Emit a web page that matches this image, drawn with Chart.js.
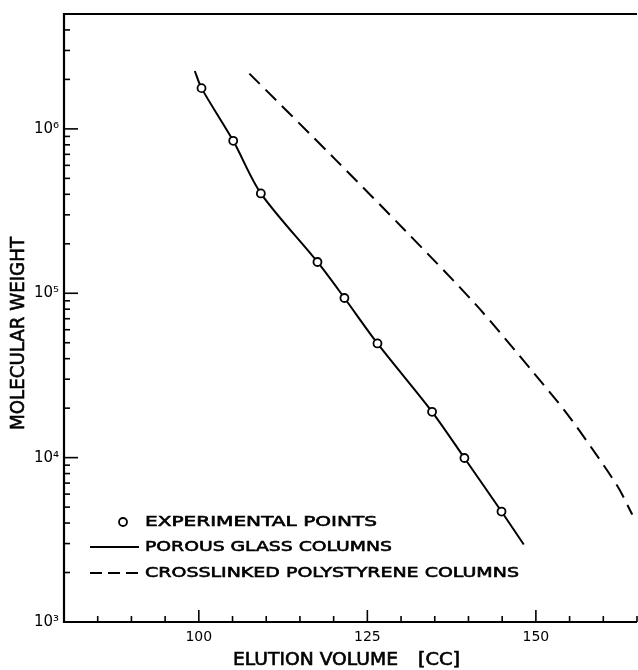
<!DOCTYPE html>
<html>
<head>
<meta charset="utf-8">
<script src="https://cdn.jsdelivr.net/npm/chart.js@4/dist/chart.umd.min.js"></script>
<style>
  html, body { margin: 0; padding: 0; background: #fff; overflow: hidden; }
  #wrap { position: relative; width: 644px; height: 670px; }
</style>
</head>
<body>
<div id="wrap"><canvas id="mwChart"></canvas></div>
<script>
// experimental points (elution volume in cc, molecular weight)
var expVolume = [100.4, 105.1, 109.2, 117.6, 121.6, 126.5, 134.6, 139.4, 144.9];
var expWeight = [1.77e6, 8.46e5, 4.05e5, 1.55e5, 9.36e4, 4.95e4, 1.90e4, 9.95e3, 4.70e3];

// porous glass columns calibration curve
var glassVolume = [99.4, 100.4, 105.1, 109.2, 117.6, 121.6, 126.5, 134.6, 139.4, 144.9, 148.2];
var glassWeight = [2.25e6, 1.77e6, 8.46e5, 4.05e5, 1.55e5, 9.36e4, 4.95e4, 1.90e4, 9.95e3, 4.70e3, 2.96e3];

// crosslinked polystyrene columns calibration curve
var psVolume = [107.5, 120.2, 130.6, 141.2, 149.7, 154.4, 158.3, 162.2, 164.3];
var psWeight = [2.17e6, 6.55e5, 2.41e5, 8.43e4, 3.27e4, 1.90e4, 1.14e4, 6.6e3, 4.5e3];

var xTickLabels = [100, 125, 150];
var legendLabels = ["EXPERIMENTAL POINTS", "POROUS GLASS COLUMNS", "CROSSLINKED POLYSTYRENE COLUMNS"];

function pairs(xs, ys) {
    return xs.map(function (x, i) { return { x: x, y: ys[i] }; });
}

var sup = { 3: "\u00b3", 4: "\u2074", 5: "\u2075", 6: "\u2076" };
var FONT = '"DejaVu Sans", sans-serif';

// draw text squeezed/stretched to a given width, a bit heavier like the lettering
function fitText(ctx, text, x, y, width, font) {
    ctx.save();
    ctx.font = font;
    var w = ctx.measureText(text).width;
    ctx.translate(x, y);
    ctx.scale(width / w, 1);
    ctx.textAlign = "left";
    ctx.textBaseline = "middle";
    ctx.lineWidth = 0.6;
    ctx.strokeStyle = "#000";
    ctx.fillText(text, 0, 0);
    ctx.strokeText(text, 0, 0);
    ctx.restore();
}

var framePlugin = {
    id: "frame",
    afterDatasetsDraw: function (chart) {
        var ctx = chart.ctx;
        var a = chart.chartArea;
        var xs = chart.scales.x;
        var ys = chart.scales.y;
        ctx.save();
        ctx.strokeStyle = "#000";
        ctx.fillStyle = "#000";
        ctx.lineCap = "butt";

        // frame: left, bottom, top
        ctx.lineWidth = 2.2;
        ctx.beginPath();
        ctx.moveTo(a.right, a.top);
        ctx.lineTo(a.left, a.top);
        ctx.lineTo(a.left, a.bottom);
        ctx.lineTo(a.right, a.bottom);
        ctx.stroke();

        // inward ticks on y (log decades)
        ctx.lineWidth = 1.6;
        for (var e = 3; e <= 6; e++) {
            for (var m = 1; m <= 9; m++) {
                var v = m * Math.pow(10, e);
                if (v > ys.max) break;
                var py = ys.getPixelForValue(v);
                var len = m === 1 ? 14 : 6;
                ctx.beginPath();
                ctx.moveTo(a.left, py);
                ctx.lineTo(a.left + len, py);
                ctx.stroke();
            }
        }
        // inward ticks on x
        for (var xv = 85; xv <= xs.max; xv += 5) {
            var px = xs.getPixelForValue(xv);
            var l = xv % 25 === 0 ? 12 : 6;
            ctx.beginPath();
            ctx.moveTo(px, a.bottom);
            ctx.lineTo(px, a.bottom - l);
            ctx.stroke();
        }

        // axis titles
        fitText(ctx, "ELUTION VOLUME", 233, 661, 165, "17px " + FONT);
        fitText(ctx, "[CC]", 418, 661, 42, "17px " + FONT);
        ctx.save();
        ctx.translate(19, 430);
        ctx.rotate(-Math.PI / 2);
        fitText(ctx, "MOLECULAR WEIGHT", 0, 0, 193, "20px " + FONT);
        ctx.restore();

        // legend
        var lx = 145;
        var rows = [522, 547, 573];
        var widths = [232, 247, 374];
        ctx.lineWidth = 1.8;
        ctx.beginPath();
        ctx.arc(123, rows[0], 4, 0, Math.PI * 2);
        ctx.stroke();
        ctx.lineWidth = 2;
        ctx.beginPath();
        ctx.moveTo(90, rows[1]);
        ctx.lineTo(139, rows[1]);
        ctx.stroke();
        ctx.setLineDash([12, 6]);
        ctx.beginPath();
        ctx.moveTo(90, rows[2]);
        ctx.lineTo(143, rows[2]);
        ctx.stroke();
        ctx.setLineDash([]);
        for (var i = 0; i < legendLabels.length; i++) {
            fitText(ctx, legendLabels[i], lx, rows[i], widths[i], "14px " + FONT);
        }
        ctx.restore();
    }
};

var ctx = document.getElementById("mwChart").getContext("2d");
var mwChart = new Chart(ctx, {
    type: "scatter",
    data: {
        datasets: [
            {
                label: "Porous glass columns",
                data: pairs(glassVolume, glassWeight),
                showLine: true,
                borderColor: "#000",
                borderWidth: 2,
                pointRadius: 0,
                tension: 0.3,
                order: 2,
            },
            {
                label: "Crosslinked polystyrene columns",
                data: pairs(psVolume, psWeight),
                showLine: true,
                borderColor: "#000",
                borderWidth: 2,
                borderDash: [15, 8],
                pointRadius: 0,
                tension: 0.3,
                order: 2,
            },
            {
                label: "Experimental points",
                data: pairs(expVolume, expWeight),
                showLine: false,
                pointRadius: 4,
                pointBorderWidth: 1.8,
                pointBorderColor: "#000",
                pointBackgroundColor: "#fff",
                order: 1,
            },
        ],
    },
    options: {
        responsive: true,
        maintainAspectRatio: false,
        animation: false,
        layout: { padding: { top: 12, right: 1, left: 0, bottom: 0 } },
        plugins: {
            legend: { display: false },
            tooltip: { enabled: false },
        },
        scales: {
            x: {
                type: "linear",
                min: 80,
                max: 165,
                grid: { display: false, drawTicks: false },
                border: { display: false },
                afterFit: function (scale) { scale.height = 48; },
                ticks: {
                    stepSize: 5,
                    autoSkip: false,
                    maxRotation: 0,
                    padding: 7,
                    color: "#000",
                    font: { family: "DejaVu Sans", size: 14 },
                    callback: function (v) {
                        return xTickLabels.indexOf(v) >= 0 ? String(v) : "";
                    },
                },
            },
            y: {
                type: "logarithmic",
                min: 1000,
                max: 5e6,
                grid: { display: false, drawTicks: false },
                border: { display: false },
                afterFit: function (scale) { scale.width = 64; },
                ticks: {
                    autoSkip: false,
                    padding: 5,
                    color: "#000",
                    font: { family: "DejaVu Sans", size: 15 },
                    callback: function (v) {
                        var e = Math.log10(v);
                        var r = Math.round(e);
                        if (Math.abs(e - r) < 1e-9 && sup[r]) return "10" + sup[r];
                        return "";
                    },
                },
            },
        },
    },
    plugins: [framePlugin],
});
</script>
</body>
</html>
